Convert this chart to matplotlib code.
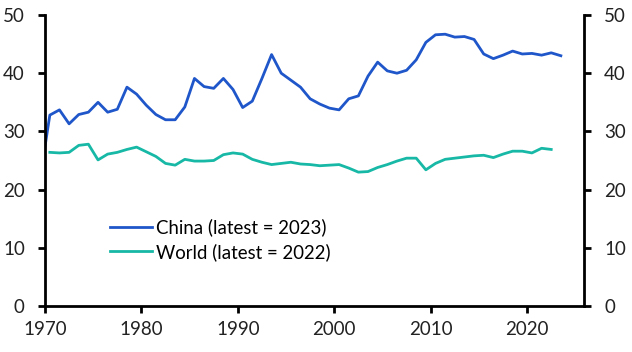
import matplotlib
matplotlib.use("Agg")
import matplotlib.pyplot as plt
import numpy as np

plt.rcParams['font.family'] = ['Lato', 'DejaVu Sans']

china_years = list(range(1969, 2024))
china_values = [22.0,
    32.8, 33.7, 31.3, 32.9, 33.3, 35.0, 33.3, 33.8, 37.6, 36.4,
    34.5, 32.9, 32.0, 32.0, 34.2, 39.1, 37.7, 37.4, 39.1, 37.2,
    34.1, 35.2, 39.1, 43.2, 40.0, 38.8, 37.6, 35.6, 34.7, 34.0,
    33.7, 35.6, 36.1, 39.5, 41.9, 40.4, 40.0, 40.5, 42.3, 45.3,
    46.6, 46.7, 46.2, 46.3, 45.8, 43.3, 42.5, 43.1, 43.8, 43.3,
    43.4, 43.1, 43.5, 43.0]

world_years = list(range(1970, 2023))
world_values = [
    26.4, 26.3, 26.4, 27.6, 27.8, 25.1, 26.1, 26.4, 26.9, 27.3,
    26.5, 25.7, 24.5, 24.2, 25.2, 24.9, 24.9, 25.0, 26.0, 26.3,
    26.1, 25.2, 24.7, 24.3, 24.5, 24.7, 24.4, 24.3, 24.1, 24.2,
    24.3, 23.7, 23.0, 23.1, 23.8, 24.3, 24.9, 25.4, 25.4, 23.4,
    24.5, 25.2, 25.4, 25.6, 25.8, 25.9, 25.5, 26.1, 26.6, 26.6,
    26.3, 27.1, 26.9]

china_label = "China (latest = 2023)"
world_label = "World (latest = 2022)"
x_ticks = [1970, 1980, 1990, 2000, 2010, 2020]
y_ticks = [0, 10, 20, 30, 40, 50]

china_color = "#1F56C9"
world_color = "#17B8A6"

fig = plt.figure(figsize=(6.32, 3.52), dpi=100)
ax = fig.add_axes([45/632, 1-306/352, (584-45)/632, (306-15)/352])

ax.plot(np.array(china_years) + 0.5, china_values, color=china_color, lw=2.0,
        label=china_label, solid_joinstyle='round')
ax.plot(np.array(world_years) + 0.5, world_values, color=world_color, lw=2.0,
        label=world_label, solid_joinstyle='round')

ax.set_xlim(1970, 2025.9)
ax.set_ylim(0, 50)
ax.set_xticks(x_ticks)
ax.set_yticks(y_ticks)

for s in ['left', 'bottom', 'right']:
    ax.spines[s].set_linewidth(2)
    ax.spines[s].set_color('black')
ax.spines['top'].set_visible(False)

ax.tick_params(axis='both', direction='out', length=5, width=2, labelsize=13.5,
               colors='black', labelcolor='#222222')
ax.tick_params(axis='x', pad=6)
ax.tick_params(axis='y', right=True, labelright=True, left=True, labelleft=True, pad=9.5)

leg = ax.legend(loc='center left', bbox_to_anchor=(0.12, 0.2285), frameon=False,
                fontsize=13.4, handlelength=2.25, handletextpad=0.25,
                borderpad=0, borderaxespad=0, labelspacing=0.35)

fig.savefig("out.png", dpi=100)
